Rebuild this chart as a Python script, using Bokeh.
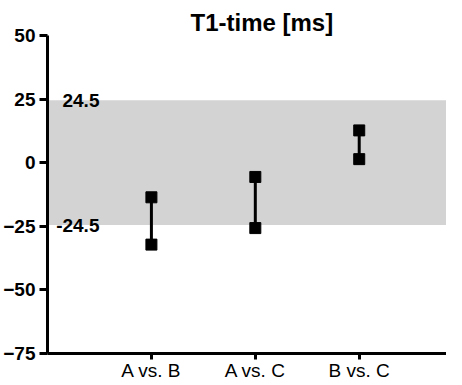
from bokeh.plotting import figure
from bokeh.models import BoxAnnotation, FixedTicker, Label
from bokeh.embed import file_html
from bokeh.resources import INLINE

# Data
categories = ["A vs. B", "A vs. C", "B vs. C"]
upper = [-13.6, -5.6, 12.7]
lower = [-32.2, -25.7, 1.4]
limit_upper = 24.5
limit_lower = -24.5
y_ticks = [-75, -50, -25, 0, 25, 50]

xs = list(range(1, len(categories) + 1))

p = figure(width=446, height=383, output_backend="svg", toolbar_location=None,
           x_range=(0, 3.84), y_range=(-75, 50),
           min_border_left=37, min_border_right=0, min_border_top=35, min_border_bottom=0)
p.outline_line_color = None
p.xgrid.visible = False
p.ygrid.visible = False
p.background_fill_color = "white"
p.border_fill_color = "white"

p.title.text = "T1-time [ms]"
p.title.text_font = "Liberation Sans"
p.title.text_font_size = "24px"
p.title.text_font_style = "bold"
p.title.text_color = "black"
p.title.align = "left"
p.title.offset = 143
p.title.standoff = 0

band = BoxAnnotation(bottom=limit_lower, top=limit_upper, fill_color="#d3d3d3",
                     fill_alpha=1.0, line_color=None, level="underlay")
p.add_layout(band)

p.segment(x0=xs, y0=lower, x1=xs, y1=upper, line_color="black", line_width=3)
p.scatter(x=xs + xs, y=upper + lower, marker="square", size=11,
          fill_color="black", line_color="black")

for v in (limit_upper, limit_lower):
    p.add_layout(Label(x=0.5, y=v, text=f"{v}", text_align="right", text_baseline="middle",
                       text_font="Liberation Sans", text_font_size="19px",
                       text_font_style="bold", text_color="black"))

for ax in (p.xaxis[0], p.yaxis[0]):
    ax.axis_line_width = 3
    ax.axis_line_color = "black"
    ax.major_tick_line_width = 3
    ax.major_tick_line_color = "black"
    ax.major_tick_in = 0
    ax.minor_tick_line_color = None
    ax.major_label_text_font = "Liberation Sans"
    ax.major_label_text_color = "black"

p.yaxis.ticker = FixedTicker(ticks=y_ticks)
p.yaxis.major_tick_out = 8
p.yaxis.major_label_text_font_size = "19px"
p.yaxis.major_label_text_font_style = "bold"
p.yaxis.major_label_standoff = 4

p.xaxis.ticker = FixedTicker(ticks=xs)
p.xaxis.major_label_overrides = {x: c for x, c in zip(xs, categories)}
p.xaxis.major_tick_out = 6
p.xaxis.major_label_text_font_size = "19px"
p.xaxis.major_label_standoff = 0

open("out.html", "w").write(file_html(p, INLINE))
